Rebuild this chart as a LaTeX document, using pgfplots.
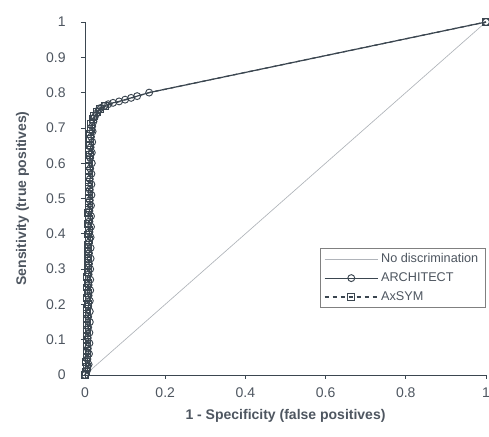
\documentclass[border=0pt]{standalone}
\usepackage{pgfplots}
\pgfplotsset{compat=1.18}
\usepackage{fontspec}
\setmainfont{Liberation Sans}
\usetikzlibrary{calc}
\definecolor{curve}{HTML}{3B4650}
\definecolor{txt}{HTML}{4E5660}
\definecolor{diag}{HTML}{B0B4BA}

\pgfplotstableread{
x y
0.000 0.000
0.006 0.015
0.009 0.030
0.006 0.045
0.010 0.060
0.007 0.075
0.011 0.090
0.007 0.105
0.011 0.120
0.008 0.135
0.012 0.150
0.008 0.165
0.012 0.180
0.008 0.195
0.012 0.210
0.009 0.225
0.013 0.240
0.009 0.255
0.013 0.270
0.009 0.285
0.013 0.300
0.010 0.315
0.014 0.330
0.010 0.345
0.014 0.360
0.010 0.375
0.014 0.390
0.011 0.405
0.015 0.420
0.011 0.435
0.015 0.450
0.011 0.465
0.015 0.480
0.012 0.495
0.016 0.510
0.012 0.525
0.016 0.540
0.012 0.555
0.016 0.570
0.013 0.585
0.017 0.600
0.013 0.615
0.017 0.630
0.014 0.645
0.018 0.660
0.015 0.675
0.019 0.690
0.018 0.705
0.021 0.718
0.024 0.730
0.028 0.740
0.034 0.750
0.040 0.757
0.048 0.762
0.058 0.767
0.070 0.771
0.085 0.775
0.100 0.780
0.115 0.785
0.130 0.790
0.160 0.800
1.000 1.000
}\architect

\pgfplotstableread{
x y
0.000 0.000
0.003 0.008
0.004 0.022
0.003 0.038
0.005 0.052
0.004 0.068
0.005 0.082
0.004 0.098
0.006 0.112
0.005 0.128
0.006 0.142
0.005 0.158
0.006 0.172
0.005 0.188
0.007 0.202
0.006 0.218
0.007 0.232
0.006 0.248
0.007 0.262
0.006 0.278
0.008 0.292
0.007 0.308
0.008 0.322
0.007 0.338
0.008 0.352
0.007 0.368
0.009 0.382
0.008 0.398
0.009 0.412
0.008 0.428
0.009 0.442
0.008 0.458
0.010 0.472
0.009 0.488
0.010 0.502
0.009 0.518
0.010 0.532
0.009 0.548
0.011 0.562
0.010 0.578
0.011 0.592
0.010 0.608
0.012 0.622
0.011 0.638
0.012 0.652
0.012 0.668
0.013 0.682
0.014 0.698
0.016 0.712
0.019 0.724
0.023 0.735
0.030 0.746
0.038 0.754
0.050 0.762
0.160 0.800
1.000 1.000
}\axsym

\begin{document}
\begin{tikzpicture}
\begin{axis}[
  scale only axis,
  width=300.75pt, height=264.75pt,
  xmin=0, xmax=1, ymin=0, ymax=1,
  axis lines*=left,
  axis line style={curve, line width=0.6pt},
  xtick={0,0.2,0.4,0.6,0.8,1},
  ytick={0,0.1,0.2,0.3,0.4,0.5,0.6,0.7,0.8,0.9,1},
  xticklabels={0,0.2,0.4,0.6,0.8,1},
  yticklabels={0,0.1,0.2,0.3,0.4,0.5,0.6,0.7,0.8,0.9,1},
  tick align=outside,
  major tick length=3pt,
  tick style={curve, line width=0.5pt},
  ticklabel style={font=\fontsize{10.5}{12}\selectfont, text=txt},
  xticklabel style={yshift=-3pt},
  yticklabel style={xshift=-8pt},
  xlabel={\bfseries 1 - Specificity (false positives)},
  ylabel={\bfseries Sensitivity (true positives)},
  label style={font=\fontsize{10.5}{12}\selectfont, text=txt},
  xlabel style={yshift=-2pt},
  ylabel style={yshift=6pt},
  legend style={at={(0.998,0.36)}, anchor=north east, draw=gray, line width=0.4pt,
    font=\fontsize{9.5}{11}\selectfont, text=txt, inner xsep=3pt, inner ysep=2pt,
    row sep=2pt, legend cell align=left},
  legend image code/.code={%
    \draw[mark repeat=2, mark phase=2] plot coordinates {(0cm,0cm) (0.7cm,0cm) (1.4cm,0cm)};},
  clip=false,
]
\addplot[diag, line width=0.5pt] coordinates {(0,0) (1,1)};
\addlegendentry{No discrimination}
\addplot[curve, line width=0.9pt, mark=o, mark size=2.6pt, mark options={solid, line width=0.7pt}] table {\architect};
\addlegendentry{ARCHITECT}
\addplot[curve, dashed, line width=0.9pt, mark=square, mark size=2.6pt, mark options={solid, line width=0.7pt},
  mark indices={1,...,54,56}, legend image post style={mark indices={2}}] table {\axsym};
\addlegendentry{AxSYM}
\coordinate (bl) at (rel axis cs:0,0);
\coordinate (tr) at (rel axis cs:1,1);
\end{axis}
\pgfresetboundingbox
\path[use as bounding box] ($(bl)+(-63.75pt,-46.5pt)$) rectangle ($(tr)+(2.25pt,16.5pt)$);
\end{tikzpicture}
\end{document}
